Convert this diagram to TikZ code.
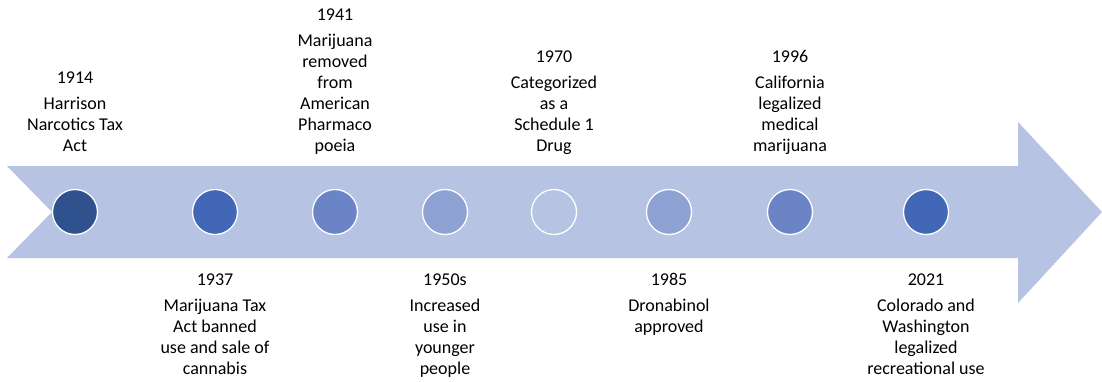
\documentclass[tikz,border=0pt]{standalone}
\usepackage{fontspec}
\setmainfont{Carlito}
\usetikzlibrary{positioning}
\definecolor{arrowfill}{HTML}{B7C3E2}
\definecolor{cA}{HTML}{2F528F}
\definecolor{cB}{HTML}{4167B6}
\definecolor{cC}{HTML}{6A84C6}
\definecolor{cD}{HTML}{8FA2D4}
\tikzset{
  dot/.style={circle, draw=white, line width=1.3pt, minimum size=45pt, inner sep=0pt},
  lbl/.style={align=center, inner sep=0pt, font=\fontsize{18}{21}\selectfont,
     execute at begin node=\strut, execute at end node=\strut},
}
\begin{document}
\begin{tikzpicture}[x=1pt,y=1pt]
\useasboundingbox (0,0) rectangle (1102,381);
\fill[arrowfill] (7,215) -- (1018,215) -- (1018,259) -- (1102,169) -- (1018,78) -- (1018,123) -- (7,123) -- (52,169) -- cycle;
\node[dot, fill=cA] (c1) at (75,169) {};
\node[dot, fill=cB] (c2) at (215,169) {};
\node[dot, fill=cC] (c3) at (335,169) {};
\node[dot, fill=cD] (c4) at (445,169) {};
\node[dot, fill=arrowfill] (c5) at (554,169) {};
\node[dot, fill=cD] (c6) at (669,169) {};
\node[dot, fill=cC] (c7) at (790,169) {};
\node[dot, fill=cB] (c8) at (926,169) {};
% top events
\node[lbl, anchor=south] (d1) at (75,222.7) {Harrison\\Narcotics Tax\\Act};
\node[lbl, above=7pt of d1] (y1) {1914};
\node[lbl, anchor=south] (d3) at (335,222.7) {Marijuana\\removed\\from\\American\\Pharmaco\\poeia};
\node[lbl, above=7pt of d3] (y3) {1941};
\node[lbl, anchor=south] (d5) at (554,222.7) {Categorized\\as a\\Schedule 1\\Drug};
\node[lbl, above=7pt of d5] (y5) {1970};
\node[lbl, anchor=south] (d7) at (790,222.7) {California\\legalized\\medical\\marijuana};
\node[lbl, above=7pt of d7] (y7) {1996};
% bottom events
\node[lbl, anchor=base] (y2) at (215,96) {1937};
\node[lbl, below=7pt of y2] (d2) {Marijuana Tax\\Act banned\\use and sale of\\cannabis};
\node[lbl, anchor=base] (y4) at (445,96) {1950s};
\node[lbl, below=7pt of y4] (d4) {Increased\\use in\\younger\\people};
\node[lbl, anchor=base] (y6) at (669,96) {1985};
\node[lbl, below=7pt of y6] (d6) {Dronabinol\\approved};
\node[lbl, anchor=base] (y8) at (926,96) {2021};
\node[lbl, below=7pt of y8] (d8) {Colorado and\\Washington\\legalized\\recreational use};
\end{tikzpicture}
\end{document}
